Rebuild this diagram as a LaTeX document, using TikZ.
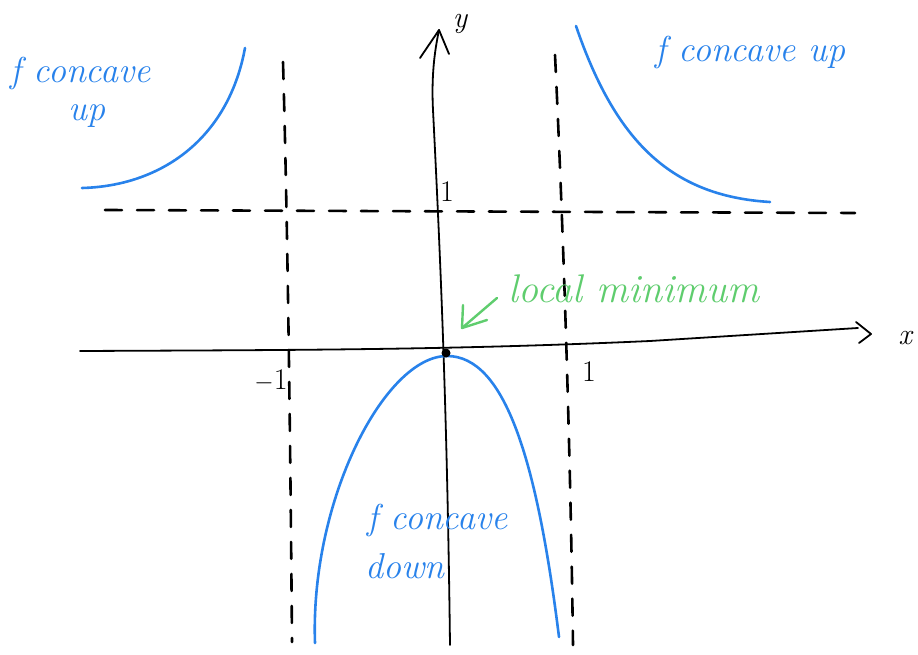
\documentclass[tikz,border=0pt]{standalone}
\usetikzlibrary{arrows.meta}
\definecolor{cblue}{RGB}{40,130,235}
\definecolor{cgreen}{RGB}{95,205,110}
\begin{document}
\begin{tikzpicture}[x=1pt,y=-1pt,
  axisline/.style={line width=1.8pt, black, line cap=round, line join=round},
  guide/.style={line width=2.6pt, black, dash pattern=on 17pt off 15pt, line cap=round},
  curve/.style={line width=2.6pt, cblue, line cap=round},
  bluetxt/.style={text=cblue, font=\fontsize{36}{40}\selectfont\itshape, inner sep=0pt, anchor=base west},
  greentxt/.style={text=cgreen, font=\fontsize{40}{44}\selectfont\itshape, inner sep=0pt, anchor=base west},
  axlabel/.style={font=\fontsize{30}{32}\selectfont\itshape, inner sep=0pt},
  ticklabel/.style={font=\fontsize{30}{32}\selectfont, inner sep=0pt}]
\useasboundingbox (0,0) rectangle (918,655);
\fill[white] (0,0) rectangle (918,655);

% named points
\coordinate (xs) at (80,351);
\coordinate (xe) at (858,328);
\coordinate (xb1) at (856,322);
\coordinate (xtip) at (871,334);
\coordinate (xb2) at (859,343);
\coordinate (ys) at (450,645);
\coordinate (ye) at (439,30);
\coordinate (yb1) at (420,58);
\coordinate (yb2) at (449,54);
\coordinate (lv1) at (283,62);
\coordinate (lv2) at (292,642);
\coordinate (rv1) at (555,55);
\coordinate (rv2) at (573,645);
\coordinate (hd1) at (105,210);
\coordinate (hd2) at (855,213);
\coordinate (ga1) at (497,298);
\coordinate (gtip) at (462,328);
\coordinate (gb1) at (487,320);
\coordinate (gb2) at (463,305);
\coordinate (c1a) at (82,188);
\coordinate (c1b) at (245,48);
\coordinate (c2a) at (576,26);
\coordinate (c2b) at (770,202);
\coordinate (c3a) at (315,643);
\coordinate (c3t) at (447,356);
\coordinate (c3b) at (559,637);

% guide lines
\draw[guide] (lv1) .. controls (287,200) and (290,400) .. (lv2);
\draw[guide] (rv1) .. controls (562,200) and (570,420) .. (rv2);
\draw[guide] (hd1) -- (hd2);

% axes
\draw[axisline] (xs) .. controls (300,350) and (450,350) .. (650,341) -- (xe);
\draw[axisline] (xb1) -- (xtip) -- (xb2);
\draw[axisline] (ys) .. controls (447,400) and (440,250) .. (433,110) .. controls (431,70) and (436,45) .. (ye);
\draw[axisline] (yb1) -- (ye) -- (yb2);
\node[axlabel] (xl) at (905,338) {x};
\node[axlabel] (yl) at (460,24) {y};

% tick labels
\node[ticklabel] (ym1) at (447,192) {1};
\node[ticklabel] (xm1) at (271,381) {$-$1};
\node[ticklabel] (xp1) at (589,372) {1};

% blue curves
\draw[curve] (c1a) .. controls (160,186) and (228,140) .. (c1b);
\draw[curve] (c2a) .. controls (615,140) and (670,196) .. (c2b);
\draw[curve] (c3a) .. controls (310,500) and (385,356) .. (c3t)
                   .. controls (505,356) and (537,460) .. (c3b);

% local minimum point
\node[circle, fill=black, inner sep=0pt, minimum size=9pt] (lmin) at (446,353) {};

% green annotation
\draw[line width=2.4pt, cgreen, line cap=round, line join=round] (ga1) -- (gtip);
\draw[line width=2.4pt, cgreen, line cap=round, line join=round] (gb2) -- (gtip) -- (gb1);
\node[greentxt] (lm) at (508,302) {local minimum};

% blue labels
\node[bluetxt] (t1) at (10,83) {f concave};
\node[bluetxt] (t2) at (68,121) {up};
\node[bluetxt] (t3) at (655,62) {f concave up};
\node[bluetxt] (t4) at (367,529) {f concave};
\node[bluetxt] (t5) at (365,578) {down};
\end{tikzpicture}
\end{document}
